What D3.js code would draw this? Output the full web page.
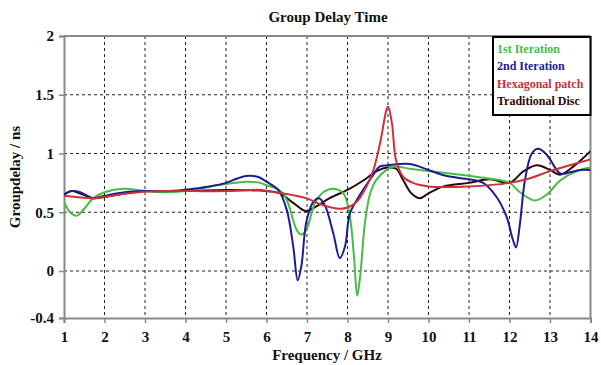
<!DOCTYPE html>
<html><head><meta charset="utf-8">
<script src="https://cdn.jsdelivr.net/npm/d3@7"></script>
<style>body{margin:0;background:#fff}</style>
</head><body><svg id="c" width="601" height="365"></svg>
<script>
const xTicks=[1,2,3,4,5,6,7,8,9,10,11,12,13,14];
const yTicks=[-0.4,0,0.5,1,1.5,2];
const seriesNames=["1st Iteration","2nd Iteration","Hexagonal patch","Traditional Disc"];
const seriesColors=["#45bd45","#1c1c94","#cc3038","#2a0808"];
const iter1=[[1,0.59],[1.15,0.5],[1.31,0.47],[1.5,0.53],[1.72,0.62],[2.0,0.67],[2.46,0.70],[3.02,0.68],[3.5,0.67],[3.99,0.68],[4.6,0.72],[5.0,0.74],[5.5,0.76],[5.84,0.75],[6.0,0.73],[6.25,0.70],[6.41,0.66],[6.55,0.56],[6.66,0.43],[6.76,0.34],[6.86,0.31],[6.95,0.33],[7.03,0.39],[7.2,0.58],[7.4,0.67],[7.65,0.70],[7.9,0.66],[8.06,0.46],[8.16,0.12],[8.24,-0.21],[8.32,-0.02],[8.43,0.41],[8.56,0.66],[8.72,0.78],[9.0,0.87],[9.16,0.89],[9.54,0.87],[10,0.85],[10.53,0.83],[11,0.81],[11.43,0.79],[12,0.75],[12.26,0.67],[12.63,0.60],[12.92,0.65],[13.25,0.77],[13.66,0.85],[14,0.88]];
const iter2=[[1,0.65],[1.19,0.68],[1.4,0.67],[1.72,0.62],[2.0,0.64],[2.5,0.67],[3,0.68],[3.6,0.68],[4.19,0.70],[4.6,0.72],[5,0.75],[5.3,0.79],[5.55,0.81],[5.8,0.80],[6,0.76],[6.29,0.69],[6.5,0.52],[6.66,0.21],[6.77,-0.08],[6.86,0.04],[6.98,0.41],[7.14,0.58],[7.29,0.62],[7.44,0.56],[7.65,0.32],[7.81,0.11],[7.94,0.21],[8.06,0.49],[8.31,0.65],[8.6,0.80],[8.8,0.89],[9,0.90],[9.54,0.91],[10,0.86],[10.43,0.81],[11,0.78],[11.35,0.75],[11.68,0.63],[11.93,0.46],[12.08,0.27],[12.16,0.20],[12.26,0.41],[12.38,0.77],[12.55,1.0],[12.71,1.04],[12.92,0.99],[13.25,0.83],[13.49,0.84],[13.74,0.86],[14,0.86]];
const hexa=[[1,0.64],[1.3,0.63],[1.72,0.62],[2.55,0.66],[3.37,0.68],[4.19,0.68],[5,0.68],[5.84,0.69],[6,0.68],[6.41,0.66],[6.98,0.62],[7.4,0.56],[7.81,0.53],[8,0.54],[8.23,0.59],[8.47,0.72],[8.64,0.86],[8.8,1.08],[9.0,1.40],[9.1,1.25],[9.2,0.94],[9.38,0.80],[9.62,0.75],[10,0.72],[11,0.72],[12,0.75],[12.51,0.79],[13,0.85],[13.49,0.90],[14,0.95]];
const disc=[[1,0.65],[1.19,0.68],[1.4,0.66],[1.72,0.62],[2.0,0.63],[2.5,0.66],[3,0.68],[4,0.68],[5,0.69],[6,0.68],[6.33,0.66],[6.66,0.58],[6.98,0.51],[7.23,0.55],[7.56,0.62],[8,0.69],[8.39,0.77],[8.72,0.85],[9,0.88],[9.2,0.87],[9.38,0.77],[9.58,0.66],[9.79,0.62],[10,0.66],[10.37,0.72],[11,0.75],[11.52,0.78],[12,0.75],[12.35,0.85],[12.68,0.90],[13,0.86],[13.25,0.82],[13.58,0.89],[14,1.02]];
const allSeries=[iter1,iter2,hexa,disc];
const FONT="'Liberation Serif', 'Tinos', 'Times New Roman', 'DejaVu Serif', serif";

const svg=d3.select("#c");
const x=d3.scaleLinear().domain([1,14]).range([64,590.5]);
const y=d3.scaleLinear().domain([-0.4,2]).range([318,36]);
const g=svg.append("g");
g.selectAll(".vg").data(xTicks.filter(d=>d>1&&d<14)).join("line")
 .attr("x1",d=>x(d)).attr("x2",d=>x(d)).attr("y1",y(2)).attr("y2",y(-0.4))
 .attr("stroke","#222").attr("stroke-width",1).attr("stroke-dasharray","3,3");
g.selectAll(".hg").data(yTicks.filter(d=>d>-0.4&&d<2)).join("line")
 .attr("x1",x(1)).attr("x2",x(14)).attr("y1",d=>y(d)).attr("y2",d=>y(d))
 .attr("stroke","#222").attr("stroke-width",1).attr("stroke-dasharray","3,3");
const xa=svg.append("g").attr("transform",`translate(0,${y(-0.4)})`)
 .call(d3.axisBottom(x).tickValues(xTicks).tickSize(5).tickPadding(8).tickFormat(d3.format("d")));
const ya=svg.append("g").attr("transform",`translate(${x(1)},0)`)
 .call(d3.axisLeft(y).tickValues(yTicks).tickSize(5).tickPadding(5).tickFormat(d=>String(d)));
[xa,ya].forEach(a=>{a.attr("font-family",FONT).attr("font-size",15).attr("font-weight","bold");
 a.select(".domain").attr("stroke","#888").attr("stroke-width",2);
 a.selectAll(".tick line").attr("stroke","#888").attr("stroke-width",1.5);
 a.selectAll("text").attr("fill","#111");});
svg.append("line").attr("x1",x(1)).attr("x2",x(14)).attr("y1",y(2)).attr("y2",y(2)).attr("stroke","#888").attr("stroke-width",2);
svg.append("line").attr("x1",x(14)).attr("x2",x(14)).attr("y1",y(2)).attr("y2",y(-0.4)).attr("stroke","#888").attr("stroke-width",2);
const line=d3.line().x(d=>x(d[0])).y(d=>y(d[1])).curve(d3.curveCatmullRom.alpha(0.5));
svg.append("clipPath").attr("id","pc").append("rect").attr("x",x(1)).attr("y",y(2)).attr("width",x(14)-x(1)).attr("height",y(-0.4)-y(2));
const order=[3,0,1,2];
svg.append("g").attr("clip-path","url(#pc)").selectAll("path").data(order).join("path")
 .attr("d",i=>line(allSeries[i])).attr("fill","none").attr("stroke",i=>seriesColors[i]).attr("stroke-width",2);
const lg=svg.append("g").attr("font-family",FONT).attr("font-weight","bold");
lg.append("rect").attr("x",493).attr("y",37).attr("width",97.5).attr("height",78).attr("fill","#fff").attr("stroke","#000").attr("stroke-width",2);
lg.selectAll("text").data(seriesNames).join("text").attr("x",497).attr("y",(d,i)=>53+i*17.3)
 .attr("fill",(d,i)=>seriesColors[i]).attr("font-size",12).text(d=>d);
const tg=svg.append("g").attr("font-family",FONT).attr("font-weight","bold").attr("fill","#111");
tg.append("text").attr("x",328).attr("y",22).attr("text-anchor","middle").attr("font-size",15).text("Group Delay Time");
tg.append("text").attr("x",327).attr("y",360).attr("text-anchor","middle").attr("font-size",15).text("Frequency / GHz");
tg.append("text").attr("transform","translate(20,177) rotate(-90)").attr("text-anchor","middle").attr("font-size",15).text("Groupdelay / ns");
</script></body></html>
